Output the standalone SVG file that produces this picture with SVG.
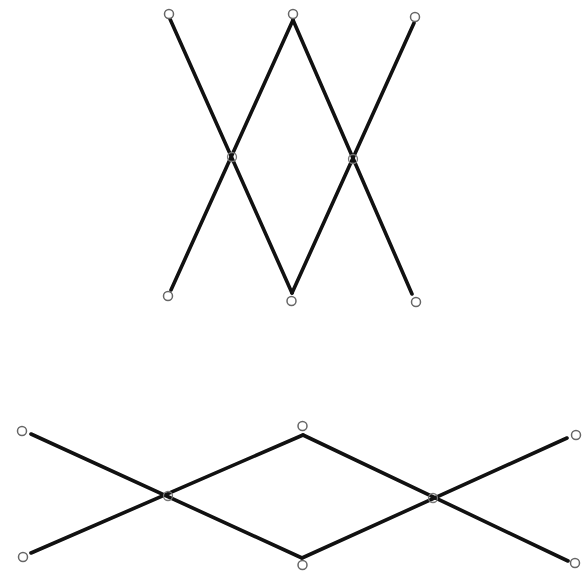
<svg xmlns="http://www.w3.org/2000/svg" width="582" height="578" viewBox="0 0 582 578">
<style>
.edge{stroke:#111;stroke-width:3.6;stroke-linecap:round;fill:none}
.node{fill:#fff;stroke:#666;stroke-width:1.5}
.hub{fill:none;stroke:#777;stroke-width:1.3}
</style>
<rect width="582" height="578" fill="#fff"/>
<g id="connectors">
<line class="edge" x1="170" y1="19" x2="292" y2="293"/>
<line class="edge" x1="293" y1="20" x2="171" y2="290"/>
<line class="edge" x1="293" y1="20" x2="412" y2="294"/>
<line class="edge" x1="414" y1="23" x2="292" y2="293"/>
<line class="edge" x1="31" y1="434" x2="302" y2="558"/>
<line class="edge" x1="31" y1="553" x2="303" y2="435"/>
<line class="edge" x1="303" y1="435" x2="568" y2="561"/>
<line class="edge" x1="302" y1="558" x2="567" y2="438"/>
</g>
<g id="n1"><circle class="node" cx="169" cy="14" r="4.5"/></g>
<g id="n2"><circle class="node" cx="293" cy="14" r="4.5"/></g>
<g id="n3"><circle class="node" cx="415" cy="17" r="4.5"/></g>
<g id="n4"><circle class="hub" cx="232" cy="157" r="4.5"/></g>
<g id="n5"><circle class="hub" cx="353" cy="159" r="4.5"/></g>
<g id="n6"><circle class="node" cx="168" cy="296" r="4.5"/></g>
<g id="n7"><circle class="node" cx="291.5" cy="301" r="4.5"/></g>
<g id="n8"><circle class="node" cx="416" cy="302" r="4.5"/></g>
<g id="n9"><circle class="node" cx="22" cy="431" r="4.5"/></g>
<g id="n10"><circle class="node" cx="302.5" cy="426" r="4.5"/></g>
<g id="n11"><circle class="node" cx="576" cy="435" r="4.5"/></g>
<g id="n12"><circle class="hub" cx="168" cy="496" r="4.5"/></g>
<g id="n13"><circle class="hub" cx="433" cy="498" r="4.5"/></g>
<g id="n14"><circle class="node" cx="23" cy="557" r="4.5"/></g>
<g id="n15"><circle class="node" cx="302.5" cy="565" r="4.5"/></g>
<g id="n16"><circle class="node" cx="575" cy="563" r="4.5"/></g>
</svg>
